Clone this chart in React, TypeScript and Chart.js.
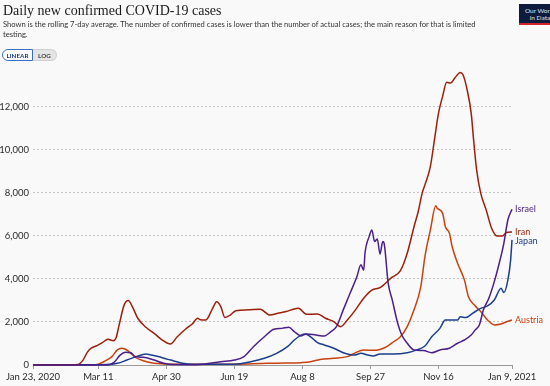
import React, { useEffect, useRef } from 'react';
import { Chart, registerables } from 'chart.js';

Chart.register(...registerables);

// x axis: days since Jan 23, 2020
const tickDays = [0, 48, 98, 148, 198, 248, 298, 352];
const tickLabels = ['Jan 23, 2020', 'Mar 11', 'Apr 30', 'Jun 19', 'Aug 8', 'Sep 27', 'Nov 16', 'Jan 9, 2021'];
const yTickValues = [0, 2000, 4000, 6000, 8000, 10000, 12000];

const israelDays = [0, 55, 60, 64, 68, 72, 75, 81, 89, 96, 103, 115, 125, 130, 138, 148, 155, 162, 170, 177, 183, 188, 192, 197, 201, 208, 214, 219, 223, 228, 233, 238, 241, 243, 244, 247, 249, 251, 253, 255, 257, 258, 261, 264, 268, 271, 275, 280, 287, 293, 299, 306, 312, 317, 322, 325, 328, 331, 335, 339, 342, 346, 349, 352];
const israelCases = [0, 0, 150, 460, 590, 570, 390, 360, 230, 80, 20, 15, 40, 80, 150, 230, 390, 850, 1310, 1660, 1700, 1750, 1550, 1350, 1440, 1390, 1350, 1550, 1780, 2560, 3330, 4100, 4650, 4400, 5200, 5960, 6270, 5730, 5850, 5150, 5730, 5650, 3800, 3020, 1940, 1390, 1010, 700, 670, 570, 700, 780, 1010, 1160, 1390, 1630, 1860, 2560, 3100, 3870, 4570, 5650, 6740, 7230];

const iranDays = [0, 28, 33, 37, 40, 43, 47, 51, 55, 59, 61, 63, 67, 70, 73, 77, 83, 89, 95, 101, 106, 112, 117, 121, 123, 127, 132, 135, 138, 141, 145, 149, 158, 167, 174, 180, 186, 192, 195, 201, 209, 215, 221, 226, 231, 237, 243, 249, 255, 263, 270, 275, 280, 283, 286, 288, 292, 295, 298, 301, 304, 307, 310, 314, 316, 319, 322, 324, 326, 329, 333, 337, 341, 345, 348, 352];
const iranCases = [0, 0, 20, 250, 600, 790, 900, 1040, 1190, 1130, 1250, 1780, 2790, 2990, 2710, 2170, 1750, 1470, 1160, 975, 1310, 1660, 1900, 2170, 2100, 2090, 2630, 2940, 2710, 2210, 2320, 2520, 2560, 2590, 2320, 2400, 2480, 2600, 2630, 2350, 2370, 2170, 2010, 1780, 2090, 2560, 3100, 3480, 3590, 4030, 4380, 5190, 6420, 7100, 7980, 8360, 9210, 10450, 11690, 12470, 13120, 13090, 13320, 13580, 13470, 12780, 11690, 10300, 9060, 7980, 7200, 6350, 5990, 5990, 6150, 6170];

const japanDays = [0, 20, 40, 54, 62, 69, 76, 83, 86, 92, 99, 103, 110, 118, 130, 148, 160, 170, 179, 187, 192, 197, 200, 204, 209, 214, 221, 228, 236, 241, 246, 250, 255, 265, 275, 282, 288, 293, 299, 303, 306, 312, 314, 318, 323, 329, 334, 339, 344, 346, 349, 351, 352];
const japanCases = [0, 5, 10, 20, 80, 230, 390, 510, 480, 390, 260, 200, 80, 40, 40, 40, 150, 310, 540, 850, 1160, 1390, 1440, 1310, 1040, 930, 780, 570, 460, 540, 460, 420, 510, 510, 570, 700, 880, 1310, 1700, 2090, 2090, 2090, 2240, 2200, 2400, 2630, 2740, 3020, 3560, 3360, 3950, 4880, 5810];

const austriaDays = [0, 44, 48, 52, 55, 58, 62, 65, 68, 72, 75, 81, 89, 96, 110, 130, 150, 172, 185, 197, 204, 211, 221, 231, 236, 243, 250, 255, 260, 265, 270, 275, 280, 285, 288, 292, 296, 297, 301, 303, 306, 308, 312, 317, 320, 325, 329, 334, 339, 344, 348, 352];
const austriaCases = [0, 0, 40, 150, 260, 390, 700, 780, 730, 540, 360, 200, 80, 50, 30, 30, 40, 80, 90, 110, 150, 260, 310, 390, 540, 700, 680, 720, 850, 1080, 1310, 1780, 2560, 3640, 5030, 6270, 7390, 7280, 7050, 6430, 6120, 5500, 4720, 3950, 3170, 2740, 2480, 2090, 1860, 1900, 2010, 2090];

const seriesNames = ['Israel', 'Iran', 'Japan', 'Austria'];
const seriesColors = ['#4a1f8a', '#9c1f0a', '#1b3f8b', '#c8420f'];

const FONT = 'Lato, "Noto Sans", sans-serif';

const toPoints = (days: number[], vals: number[]) => days.map((d, i) => ({ x: d, y: vals[i] }));

const endLabels = {
  id: 'endLabels',
  afterDatasetsDraw(chart: any) {
    const ctx = chart.ctx;
    const items = chart.data.datasets
      .map((ds: any, i: number) => {
        const meta = chart.getDatasetMeta(i);
        const last = meta.data[meta.data.length - 1];
        return { text: ds.label, color: ds.borderColor, y: last.y };
      })
      .sort((a: any, b: any) => a.y - b.y);
    for (let i = 1; i < items.length; i++) {
      if (items[i].y - items[i - 1].y < 9) items[i].y = items[i - 1].y + 9;
    }
    ctx.save();
    ctx.font = `9px ${FONT}`;
    ctx.textBaseline = 'middle';
    ctx.textAlign = 'left';
    items.forEach((it: any) => {
      ctx.fillStyle = it.color;
      ctx.fillText(it.text, chart.chartArea.right + 3, it.y);
    });
    ctx.restore();
  },
};

export default function App() {
  const canvasRef = useRef<HTMLCanvasElement | null>(null);

  useEffect(() => {
    if (!canvasRef.current) return;
    const data = [
      toPoints(israelDays, israelCases),
      toPoints(iranDays, iranCases),
      toPoints(japanDays, japanCases),
      toPoints(austriaDays, austriaCases),
    ];
    const chart = new Chart(canvasRef.current, {
      type: 'line',
      data: {
        datasets: seriesNames.map((name, i) => ({
          label: name,
          data: data[i],
          borderColor: seriesColors[i],
          backgroundColor: seriesColors[i],
          borderWidth: 1.5,
          pointRadius: 0,
          cubicInterpolationMode: 'monotone' as const,
          clip: false as any,
        })),
      },
      options: {
        animation: false,
        responsive: false,
        devicePixelRatio: 1,
        layout: { padding: { top: 72, right: 38, left: 0, bottom: 0 } },
        plugins: { legend: { display: false }, tooltip: { enabled: false } },
        scales: {
          x: {
            type: 'linear',
            min: 0,
            max: 352,
            afterBuildTicks: (s: any) => {
              s.ticks = tickDays.map((v) => ({ value: v }));
            },
            afterFit: (s: any) => {
              s.height = 21;
            },
            ticks: {
              autoSkip: false,
              maxRotation: 0,
              padding: 2,
              color: '#2a2a2a',
              font: { family: FONT, size: 9.5 },
              callback: (_v: any, i: number) => tickLabels[i],
            },
            grid: { drawOnChartArea: false, drawTicks: true, tickLength: 4, color: '#999' },
            border: { display: true, color: '#999' },
          },
          y: {
            type: 'linear',
            min: 0,
            max: 13600,
            afterBuildTicks: (s: any) => {
              s.ticks = yTickValues.map((v) => ({ value: v }));
            },
            afterFit: (s: any) => {
              s.width = 33;
            },
            ticks: {
              padding: 4,
              color: '#2a2a2a',
              font: { family: FONT, size: 9.5 },
              callback: (v: any) => Number(v).toLocaleString('en-US'),
            },
            grid: {
              drawTicks: false,
              color: (c: any) => (c.tick && c.tick.value === 0 ? 'rgba(0,0,0,0)' : '#c4c4c4'),
              lineWidth: 1,
            },
            border: { display: false, dash: [2, 2] },
          },
        },
      },
      plugins: [endLabels],
    } as any);
    return () => chart.destroy();
  }, []);

  return (
    <div
      style={{
        position: 'fixed',
        left: 0,
        top: 0,
        width: 550,
        height: 386,
        background: '#f9f9f9',
        overflow: 'hidden',
        fontFamily: FONT,
      }}
    >
      <canvas ref={canvasRef} width={550} height={386} style={{ position: 'absolute', left: 0, top: 0 }} />
      <div
        style={{
          position: 'absolute',
          left: 3,
          top: 3,
          fontFamily: '"Liberation Serif", "DejaVu Serif", serif',
          fontSize: 14,
          lineHeight: '16px',
          color: '#1a1a1a',
          whiteSpace: 'nowrap',
        }}
      >
        Daily new confirmed COVID-19 cases
      </div>
      <div
        style={{
          position: 'absolute',
          left: 3,
          top: 20,
          fontSize: 7.6,
          lineHeight: '9.5px',
          color: '#333',
          whiteSpace: 'nowrap',
        }}
      >
        Shown is the rolling 7-day average. The number of confirmed cases is lower than the number of actual cases; the main reason for that is limited
        <br />
        testing.
      </div>
      <div style={{ position: 'absolute', left: 2, top: 49, display: 'flex', height: 12 }}>
        <div
          style={{
            width: 29,
            height: 10,
            border: '1px solid #3b6fc6',
            borderRadius: '6px 0 0 6px',
            background: '#fff',
            color: '#1a3a7a',
            fontSize: 6.3,
            fontWeight: 700,
            display: 'flex',
            alignItems: 'center',
            justifyContent: 'center',
          }}
        >
          LINEAR
        </div>
        <div
          style={{
            width: 23,
            height: 10,
            border: '1px solid #d0d0d0',
            borderLeft: 'none',
            borderRadius: '0 6px 6px 0',
            background: '#e4e4e4',
            color: '#444',
            fontSize: 6.3,
            fontWeight: 700,
            display: 'flex',
            alignItems: 'center',
            justifyContent: 'center',
          }}
        >
          LOG
        </div>
      </div>
      <div
        style={{
          position: 'absolute',
          left: 519,
          top: 4,
          width: 40,
          height: 21,
          background: '#0d1c3d',
          borderBottom: '2px solid #d2222d',
          color: '#dfe6f3',
          fontSize: 6.5,
          lineHeight: '7px',
          padding: '3px 0 0 2px',
          boxSizing: 'border-box',
          textAlign: 'center',
        }}
      >
        Our World
        <br />
        in Data
      </div>
    </div>
  );
}
